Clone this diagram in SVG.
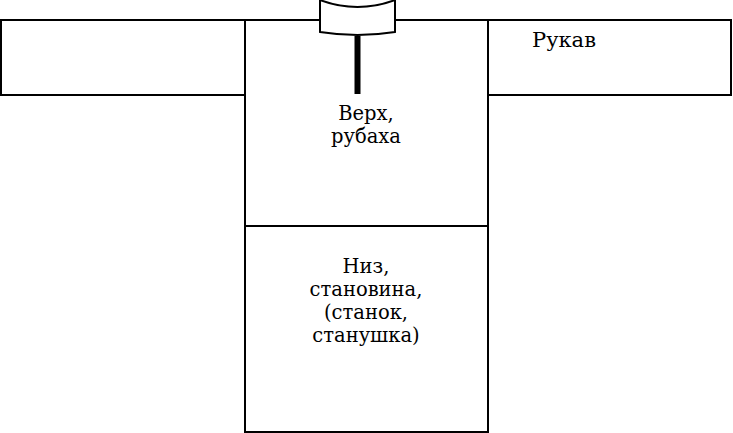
<svg xmlns="http://www.w3.org/2000/svg" width="733" height="433" viewBox="0 0 733 433">
<style>
.ln{fill:none;stroke:#000;stroke-width:2}
.sh{fill:#fff;stroke:#000;stroke-width:2}
.t{font-family:"DejaVu Serif","Liberation Serif",serif;font-size:19.5px;fill:#000;text-anchor:middle}
.s{font-family:"DejaVu Serif","Liberation Serif",serif;font-size:21px;fill:#000}
</style>
<g id="left-sleeve">
<rect class="sh" x="1" y="20" width="244" height="75"/>
</g>
<g id="right-sleeve">
<rect class="sh" x="488" y="20" width="243" height="75"/>
<text class="s" x="532" y="47">Рукав</text>
</g>
<g id="top">
<rect class="sh" x="245" y="20" width="243" height="206"/>
<text class="t" x="366" y="120">Верх,</text>
<text class="t" x="366" y="143">рубаха</text>
</g>
<g id="bottom">
<rect class="sh" x="245" y="226" width="243" height="206"/>
<text class="t" x="366" y="273">Низ,</text>
<text class="t" x="366" y="296">становина,</text>
<text class="t" x="366" y="319">(станок,</text>
<text class="t" x="366" y="342">станушка)</text>
</g>
<g id="collar">
<path class="sh" d="M320,-2 L320,32 Q357.5,38 395,32 L395,-2 Z"/>
<path class="ln" d="M320,0 Q357.5,14 395,0"/>
</g>
<g id="connectors">
<line x1="357.5" y1="36" x2="357.5" y2="94" stroke="#000" stroke-width="6"/>
</g>
</svg>
